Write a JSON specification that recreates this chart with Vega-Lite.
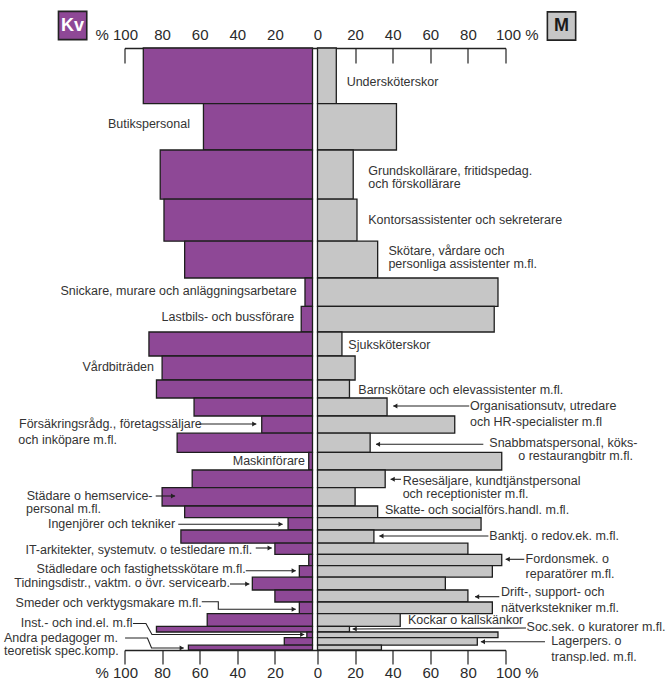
{
  "$schema": "https://vega.github.io/schema/vega-lite/v6.json",
  "width": 381,
  "height": 602,
  "autosize": {"type": "none"},
  "padding": {"left": 124.5, "top": 48, "right": 161.5, "bottom": 32},
  "background": "white",
  "config": {"view": {"stroke": null}},
  "datasets": {
    "yrken": [
      {"nr": 1, "yrke": "Undersköterskor", "antal": 139, "kv": 90, "m": 10},
      {"nr": 2, "yrke": "Butikspersonal", "antal": 116, "kv": 58, "m": 42},
      {"nr": 3, "yrke": "Grundskollärare, fritidspedagoger och förskollärare", "antal": 123, "kv": 81, "m": 19},
      {"nr": 4, "yrke": "Kontorsassistenter och sekreterare", "antal": 105, "kv": 79, "m": 21},
      {"nr": 5, "yrke": "Skötare, vårdare och personliga assistenter m.fl.", "antal": 92, "kv": 68, "m": 32},
      {"nr": 6, "yrke": "Snickare, murare och anläggningsarbetare", "antal": 71, "kv": 4, "m": 96},
      {"nr": 7, "yrke": "Lastbils- och bussförare", "antal": 64, "kv": 6, "m": 94},
      {"nr": 8, "yrke": "Sjuksköterskor", "antal": 60, "kv": 87, "m": 13},
      {"nr": 9, "yrke": "Vårdbiträden", "antal": 60, "kv": 80, "m": 20},
      {"nr": 10, "yrke": "Barnskötare och elevassistenter m.fl.", "antal": 45, "kv": 83, "m": 17},
      {"nr": 11, "yrke": "Organisationsutvecklare, utredare och HR-specialister m.fl.", "antal": 45, "kv": 63, "m": 37},
      {"nr": 12, "yrke": "Försäkringsrådgivare, företagssäljare och inköpare m.fl.", "antal": 43, "kv": 27, "m": 73},
      {"nr": 13, "yrke": "Snabbmatspersonal, köks- och restaurangbiträden m.fl.", "antal": 48, "kv": 72, "m": 28},
      {"nr": 14, "yrke": "Maskinförare", "antal": 44, "kv": 2, "m": 98},
      {"nr": 15, "yrke": "Resesäljare, kundtjänstpersonal och receptionister m.fl.", "antal": 44, "kv": 64, "m": 36},
      {"nr": 16, "yrke": "Städare och hemservicepersonal m.fl.", "antal": 46, "kv": 80, "m": 20},
      {"nr": 17, "yrke": "Skatte- och socialförsäkringshandläggare m.fl.", "antal": 29, "kv": 68, "m": 32},
      {"nr": 18, "yrke": "Ingenjörer och tekniker", "antal": 31, "kv": 13, "m": 87},
      {"nr": 19, "yrke": "Banktjänstemän och redovisningsekonomer m.fl.", "antal": 33, "kv": 70, "m": 30},
      {"nr": 20, "yrke": "IT-arkitekter, systemutvecklare och testledare m.fl.", "antal": 28, "kv": 20, "m": 80},
      {"nr": 21, "yrke": "Fordonsmekaniker och reparatörer m.fl.", "antal": 28, "kv": 2, "m": 98},
      {"nr": 22, "yrke": "Städledare och fastighetsskötare m.fl.", "antal": 29, "kv": 7, "m": 93},
      {"nr": 23, "yrke": "Tidningsdistributörer, vaktmästare och övriga servicearbetare", "antal": 32, "kv": 32, "m": 68},
      {"nr": 24, "yrke": "Drift-, support- och nätverkstekniker m.fl.", "antal": 30, "kv": 20, "m": 80},
      {"nr": 25, "yrke": "Smeder och verktygsmakare m.fl.", "antal": 29, "kv": 7, "m": 93},
      {"nr": 26, "yrke": "Kockar och kallskänkor", "antal": 32, "kv": 56, "m": 44},
      {"nr": 27, "yrke": "Socialsekreterare och kuratorer m.fl.", "antal": 14, "kv": 83, "m": 17},
      {"nr": 28, "yrke": "Installations- och industrielektriker m.fl.", "antal": 14, "kv": 3, "m": 96},
      {"nr": 29, "yrke": "Lagerpersonal och transportledare m.fl.", "antal": 19, "kv": 15, "m": 85},
      {"nr": 30, "yrke": "Andra pedagoger med teoretisk specialistkompetens", "antal": 12, "kv": 66, "m": 34}
    ],
    "etikett_kv_h": [
      {"t": "Butikspersonal", "x": 65.2, "y": 190.75},
      {"t": "Snickare, murare och anläggningsarbetare", "x": 8.4, "y": 606.75},
      {"t": "Lastbils- och bussförare", "x": 9.7, "y": 673.25},
      {"t": "Vårdbiträden", "x": 84.3, "y": 796.75},
      {"t": "Maskinförare", "x": 4.0, "y": 1031.75},
      {"t": "Ingenjörer och tekniker", "x": 73.1, "y": 1190.75},
      {"t": "IT-arkitekter, systemutv. o testledare m.fl.", "x": 32.0, "y": 1253.75},
      {"t": "Städledare och fastighetsskötare m.fl.", "x": 35.5, "y": 1302.5},
      {"t": "Tidningsdistr., vaktm. o övr. servicearb.", "x": 43.9, "y": 1338.25},
      {"t": "Smeder och verktygsmakare m.fl.", "x": 58.9, "y": 1386.75},
      {"t": "Inst.- och ind.el. m.fl", "x": 95.7, "y": 1438.25}
    ],
    "etikett_kv_v": [
      {"t": "Försäkringsrådg., företagssäljare", "x": 156.1, "y": 940},
      {"t": "och inköpare m.fl.", "x": 156.5, "y": 980},
      {"t": "Städare o hemservice-", "x": 152.0, "y": 1120},
      {"t": "personal m.fl.", "x": 152.4, "y": 1153.25},
      {"t": "Andra pedagoger m.", "x": 164.1, "y": 1475},
      {"t": "teoretisk spec.komp.", "x": 164.1, "y": 1507.5}
    ],
    "pilar_kv": [
      {"id": "F", "o": 1, "x": 60.6, "y": 940, "spets": false},
      {"id": "F", "o": 2, "x": 29.9, "y": 940, "spets": true},
      {"id": "S", "o": 1, "x": 83.4, "y": 1120, "spets": false},
      {"id": "S", "o": 2, "x": 73.1, "y": 1120, "spets": true},
      {"id": "I", "o": 1, "x": 71.4, "y": 1190.75, "spets": false},
      {"id": "I", "o": 2, "x": 15.9, "y": 1190.75, "spets": true},
      {"id": "IT", "o": 1, "x": 30.2, "y": 1250, "spets": false},
      {"id": "IT", "o": 2, "x": 21.7, "y": 1250, "spets": true},
      {"id": "SL", "o": 1, "x": 35.5, "y": 1306.75, "spets": false},
      {"id": "SL", "o": 2, "x": 8.9, "y": 1306.75, "spets": true},
      {"id": "T", "o": 1, "x": 43.9, "y": 1340, "spets": false},
      {"id": "T", "o": 2, "x": 33.6, "y": 1340, "spets": true},
      {"id": "SM", "o": 1, "x": 58.9, "y": 1384.25, "spets": false},
      {"id": "SM", "o": 2, "x": 50.1, "y": 1384.25, "spets": false},
      {"id": "SM", "o": 3, "x": 50.1, "y": 1403.25, "spets": false},
      {"id": "SM", "o": 4, "x": 8.9, "y": 1403.25, "spets": true},
      {"id": "IN", "o": 1, "x": 95.5, "y": 1438.75, "spets": false},
      {"id": "IN", "o": 2, "x": 88.6, "y": 1438.75, "spets": false},
      {"id": "IN", "o": 3, "x": 85.4, "y": 1466.25, "spets": false},
      {"id": "IN", "o": 4, "x": 4.4, "y": 1466.25, "spets": true},
      {"id": "A", "o": 1, "x": 99.7, "y": 1475, "spets": false},
      {"id": "A", "o": 2, "x": 87.8, "y": 1475, "spets": false},
      {"id": "A", "o": 3, "x": 85.6, "y": 1500, "spets": false},
      {"id": "A", "o": 4, "x": 68.5, "y": 1500, "spets": true}
    ],
    "etikett_m": [
      {"t": "Undersköterskor", "x": 15.5, "y": 85.75},
      {"t": "Grundskollärare, fritidspedag.", "x": 27.0, "y": 306.75},
      {"t": "och förskollärare", "x": 27.0, "y": 340},
      {"t": "Kontorsassistenter och sekreterare", "x": 27.0, "y": 430},
      {"t": "Skötare, vårdare och", "x": 37.7, "y": 506.75},
      {"t": "personliga assistenter m.fl.", "x": 37.7, "y": 540.75},
      {"t": "Sjuksköterskor", "x": 16.4, "y": 742.5},
      {"t": "Barnskötare och elevassistenter m.fl.", "x": 21.7, "y": 855},
      {"t": "Organisationsutv, utredare", "x": 81.1, "y": 895},
      {"t": "och HR-specialister m.fl", "x": 81.1, "y": 934.25},
      {"t": "Snabbmatspersonal, köks-", "x": 91.4, "y": 988.25},
      {"t": "o restaurangbitr m.fl.", "x": 106.8, "y": 1020},
      {"t": "Resesäljare, kundtjänstpersonal", "x": 45.3, "y": 1081.75},
      {"t": "och receptionister m.fl.", "x": 45.3, "y": 1115.75},
      {"t": "Skatte- och socialförs.handl. m.fl.", "x": 35.9, "y": 1155},
      {"t": "Banktj. o redov.ek. m.fl.", "x": 91.4, "y": 1220},
      {"t": "Fordonsmek. o", "x": 110.7, "y": 1278.25},
      {"t": "reparatörer m.fl.", "x": 110.7, "y": 1315.75},
      {"t": "Drift-, support- och", "x": 97.6, "y": 1360.75},
      {"t": "nätverkstekniker m.fl.", "x": 97.6, "y": 1399.25},
      {"t": "Kockar o kallskänkor", "x": 48.1, "y": 1430},
      {"t": "Soc.sek. o kuratorer m.fl.", "x": 111.2, "y": 1446.25},
      {"t": "Lagerpers. o", "x": 124.4, "y": 1482.5},
      {"t": "transp.led. m.fl.", "x": 124.4, "y": 1522.5}
    ],
    "pilar_m": [
      {"id": "O", "o": 1, "x": 80.7, "y": 895, "spets": false},
      {"id": "O", "o": 2, "x": 40.3, "y": 895, "spets": true},
      {"id": "SN", "o": 1, "x": 88.2, "y": 990.75, "spets": false},
      {"id": "SN", "o": 2, "x": 31.1, "y": 990.75, "spets": true},
      {"id": "R", "o": 1, "x": 44.4, "y": 1078.25, "spets": false},
      {"id": "R", "o": 2, "x": 38.9, "y": 1078.25, "spets": true},
      {"id": "B", "o": 1, "x": 90.9, "y": 1220, "spets": false},
      {"id": "B", "o": 2, "x": 32.9, "y": 1220, "spets": true},
      {"id": "FO", "o": 1, "x": 110.0, "y": 1278.25, "spets": false},
      {"id": "FO", "o": 2, "x": 100.1, "y": 1278.25, "spets": true},
      {"id": "D", "o": 1, "x": 96.7, "y": 1371.75, "spets": false},
      {"id": "D", "o": 2, "x": 83.8, "y": 1371.75, "spets": true},
      {"id": "SO", "o": 1, "x": 110.9, "y": 1450, "spets": false},
      {"id": "SO", "o": 2, "x": 18.7, "y": 1452.5, "spets": true},
      {"id": "L", "o": 1, "x": 121.0, "y": 1484.25, "spets": false},
      {"id": "L", "o": 2, "x": 86.9, "y": 1484.25, "spets": true}
    ],
    "rubrik_kv": [{"t": "Kv", "x": 127.6, "y": -56.25}],
    "rubrik_m": [{"t": "M", "x": 129.8, "y": -55}]
  },
  "layer": [
    {
      "layer": [
        {
          "data": {"name": "yrken"},
          "transform": [{"stack": "antal", "groupby": [], "sort": [{"field": "nr", "order": "ascending"}], "as": ["y0", "y1"]}],
          "mark": {"type": "rect", "fill": "#8e4896", "stroke": "#1e1e1e", "strokeWidth": 1.3},
          "encoding": {
            "x": {"field": "kv", "type": "quantitative", "scale": {"domain": [-102.66, 100], "reverse": true},
              "axis": {"orient": "top", "values": [20, 40, 60, 80, 100], "ticks": false, "tickSize": 0, "domain": true, "domainColor": "#222222", "domainWidth": 1.3, "grid": false, "title": null,
                "labelExpr": "datum.value == 100 ? '% 100' : datum.label",
                "labelAlign": {"condition": {"test": "datum.value == 100", "value": "right"}, "value": "center"},
                "labelOffset": {"condition": {"test": "datum.value == 100", "value": 13}, "value": 0},
                "labelPadding": 6, "labelFlush": false, "labelOverlap": false, "labelBound": false,
                "labelFont": "Liberation Sans, Arial, sans-serif", "labelFontSize": 15, "labelColor": "#2a2a2a"}},
            "x2": {"datum": 0},
            "y": {"field": "y0", "type": "quantitative", "scale": {"domain": [0, 1505], "reverse": true}, "axis": null},
            "y2": {"field": "y1"}
          }
        },
        {
          "data": {"name": "pilar_kv"},
          "mark": {"type": "line", "color": "#222222", "strokeWidth": 1.1},
          "encoding": {
            "x": {"field": "x", "type": "quantitative", "scale": {"domain": [-102.66, 100], "reverse": true},
              "axis": {"orient": "bottom", "values": [20, 40, 60, 80, 100], "ticks": true, "tickSize": 14, "tickColor": "#222222", "tickWidth": 1.2, "domain": true, "domainColor": "#222222", "domainWidth": 1.3, "grid": false, "title": null,
                "labelExpr": "datum.value == 100 ? '% 100' : datum.label",
                "labelAlign": {"condition": {"test": "datum.value == 100", "value": "right"}, "value": "center"},
                "labelOffset": {"condition": {"test": "datum.value == 100", "value": 13}, "value": 0},
                "labelPadding": 1, "labelFlush": false, "labelOverlap": false, "labelBound": false,
                "labelFont": "Liberation Sans, Arial, sans-serif", "labelFontSize": 15, "labelColor": "#2a2a2a"}},
            "y": {"field": "y", "type": "quantitative", "scale": {"domain": [0, 1505], "reverse": true}, "axis": null},
            "detail": {"field": "id", "type": "nominal"},
            "order": {"field": "o", "type": "quantitative"}
          }
        },
        {
          "data": {"name": "pilar_kv"},
          "transform": [{"filter": "datum.spets"}],
          "mark": {"type": "point", "shape": "triangle-right", "filled": true, "color": "#222222", "opacity": 1, "size": 24, "xOffset": -2},
          "encoding": {
            "x": {"field": "x", "type": "quantitative", "scale": {"domain": [-102.66, 100], "reverse": true},
              "axis": {"orient": "top", "offset": -15, "values": [20, 40, 60, 80, 100], "ticks": true, "tickSize": 15, "tickColor": "#222222", "tickWidth": 1.2, "labels": false, "domain": false, "grid": false, "title": null}},
            "y": {"field": "y", "type": "quantitative", "scale": {"domain": [0, 1505], "reverse": true}, "axis": null}
          }
        },
        {
          "data": {"name": "etikett_kv_h"},
          "mark": {"type": "text", "align": "right", "baseline": "middle", "font": "Liberation Sans, Arial, sans-serif", "fontSize": 12.5, "color": "#333333"},
          "encoding": {
            "x": {"field": "x", "type": "quantitative", "scale": {"domain": [-102.66, 100], "reverse": true}, "axis": null},
            "y": {"field": "y", "type": "quantitative", "scale": {"domain": [0, 1505], "reverse": true}, "axis": null},
            "text": {"field": "t", "type": "nominal"}
          }
        },
        {
          "data": {"name": "etikett_kv_v"},
          "mark": {"type": "text", "align": "left", "baseline": "middle", "font": "Liberation Sans, Arial, sans-serif", "fontSize": 12.5, "color": "#333333"},
          "encoding": {
            "x": {"field": "x", "type": "quantitative", "scale": {"domain": [-102.66, 100], "reverse": true}, "axis": null},
            "y": {"field": "y", "type": "quantitative", "scale": {"domain": [0, 1505], "reverse": true}, "axis": null},
            "text": {"field": "t", "type": "nominal"}
          }
        },
        {
          "data": {"name": "rubrik_kv"},
          "mark": {"type": "point", "shape": "square", "filled": true, "fill": "#8e4896", "stroke": "#222222", "strokeWidth": 1.6, "opacity": 1, "size": 800},
          "encoding": {
            "x": {"field": "x", "type": "quantitative", "scale": {"domain": [-102.66, 100], "reverse": true}, "axis": null},
            "y": {"field": "y", "type": "quantitative", "scale": {"domain": [0, 1505], "reverse": true}, "axis": null}
          }
        },
        {
          "data": {"name": "rubrik_kv"},
          "mark": {"type": "text", "align": "center", "baseline": "middle", "font": "Liberation Sans, Arial, sans-serif", "fontSize": 18, "fontWeight": "bold", "color": "#ffffff"},
          "encoding": {
            "x": {"field": "x", "type": "quantitative", "scale": {"domain": [-102.66, 100], "reverse": true}, "axis": null},
            "y": {"field": "y", "type": "quantitative", "scale": {"domain": [0, 1505], "reverse": true}, "axis": null},
            "text": {"field": "t", "type": "nominal"}
          }
        }
      ],
      "resolve": {"axis": {"x": "independent"}}
    },
    {
      "layer": [
        {
          "data": {"name": "yrken"},
          "transform": [{"stack": "antal", "groupby": [], "sort": [{"field": "nr", "order": "ascending"}], "as": ["y0", "y1"]}],
          "mark": {"type": "rect", "fill": "#c6c6c6", "stroke": "#1e1e1e", "strokeWidth": 1.3},
          "encoding": {
            "x": {"field": "m", "type": "quantitative", "scale": {"domain": [-102.66, 100]},
              "axis": {"orient": "top", "values": [0, 20, 40, 60, 80, 100], "ticks": false, "tickSize": 0, "domain": false, "grid": false, "title": null,
                "labelExpr": "datum.value == 100 ? '100 %' : datum.label",
                "labelAlign": {"condition": {"test": "datum.value == 100", "value": "left"}, "value": "center"},
                "labelOffset": {"condition": {"test": "datum.value == 100", "value": -10}, "value": 0},
                "labelPadding": 6, "labelFlush": false, "labelOverlap": false, "labelBound": false,
                "labelFont": "Liberation Sans, Arial, sans-serif", "labelFontSize": 15, "labelColor": "#2a2a2a"}},
            "x2": {"datum": 0},
            "y": {"field": "y0", "type": "quantitative", "scale": {"domain": [0, 1505], "reverse": true}, "axis": null},
            "y2": {"field": "y1"}
          }
        },
        {
          "data": {"name": "pilar_m"},
          "mark": {"type": "line", "color": "#222222", "strokeWidth": 1.1},
          "encoding": {
            "x": {"field": "x", "type": "quantitative", "scale": {"domain": [-102.66, 100]},
              "axis": {"orient": "bottom", "values": [0, 20, 40, 60, 80, 100], "ticks": true, "tickSize": 14, "tickColor": "#222222", "tickWidth": 1.2, "domain": false, "grid": false, "title": null,
                "labelExpr": "datum.value == 100 ? '100 %' : datum.label",
                "labelAlign": {"condition": {"test": "datum.value == 100", "value": "left"}, "value": "center"},
                "labelOffset": {"condition": {"test": "datum.value == 100", "value": -10}, "value": 0},
                "labelPadding": 1, "labelFlush": false, "labelOverlap": false, "labelBound": false,
                "labelFont": "Liberation Sans, Arial, sans-serif", "labelFontSize": 15, "labelColor": "#2a2a2a"}},
            "y": {"field": "y", "type": "quantitative", "scale": {"domain": [0, 1505], "reverse": true}, "axis": null},
            "detail": {"field": "id", "type": "nominal"},
            "order": {"field": "o", "type": "quantitative"}
          }
        },
        {
          "data": {"name": "pilar_m"},
          "transform": [{"filter": "datum.spets"}],
          "mark": {"type": "point", "shape": "triangle-left", "filled": true, "color": "#222222", "opacity": 1, "size": 24, "xOffset": 2},
          "encoding": {
            "x": {"field": "x", "type": "quantitative", "scale": {"domain": [-102.66, 100]},
              "axis": {"orient": "top", "offset": -15, "values": [20, 40, 60, 80, 100], "ticks": true, "tickSize": 15, "tickColor": "#222222", "tickWidth": 1.2, "labels": false, "domain": false, "grid": false, "title": null}},
            "y": {"field": "y", "type": "quantitative", "scale": {"domain": [0, 1505], "reverse": true}, "axis": null}
          }
        },
        {
          "data": {"name": "etikett_m"},
          "mark": {"type": "text", "align": "left", "baseline": "middle", "font": "Liberation Sans, Arial, sans-serif", "fontSize": 12.5, "color": "#333333"},
          "encoding": {
            "x": {"field": "x", "type": "quantitative", "scale": {"domain": [-102.66, 100]}, "axis": null},
            "y": {"field": "y", "type": "quantitative", "scale": {"domain": [0, 1505], "reverse": true}, "axis": null},
            "text": {"field": "t", "type": "nominal"}
          }
        },
        {
          "data": {"name": "rubrik_m"},
          "mark": {"type": "point", "shape": "square", "filled": true, "fill": "#c6c6c6", "stroke": "#222222", "strokeWidth": 1.6, "opacity": 1, "size": 800},
          "encoding": {
            "x": {"field": "x", "type": "quantitative", "scale": {"domain": [-102.66, 100]}, "axis": null},
            "y": {"field": "y", "type": "quantitative", "scale": {"domain": [0, 1505], "reverse": true}, "axis": null}
          }
        },
        {
          "data": {"name": "rubrik_m"},
          "mark": {"type": "text", "align": "center", "baseline": "middle", "font": "Liberation Sans, Arial, sans-serif", "fontSize": 18, "fontWeight": "bold", "color": "#1a1a1a"},
          "encoding": {
            "x": {"field": "x", "type": "quantitative", "scale": {"domain": [-102.66, 100]}, "axis": null},
            "y": {"field": "y", "type": "quantitative", "scale": {"domain": [0, 1505], "reverse": true}, "axis": null},
            "text": {"field": "t", "type": "nominal"}
          }
        }
      ],
      "resolve": {"axis": {"x": "independent"}}
    }
  ],
  "resolve": {"scale": {"x": "independent"}}
}
